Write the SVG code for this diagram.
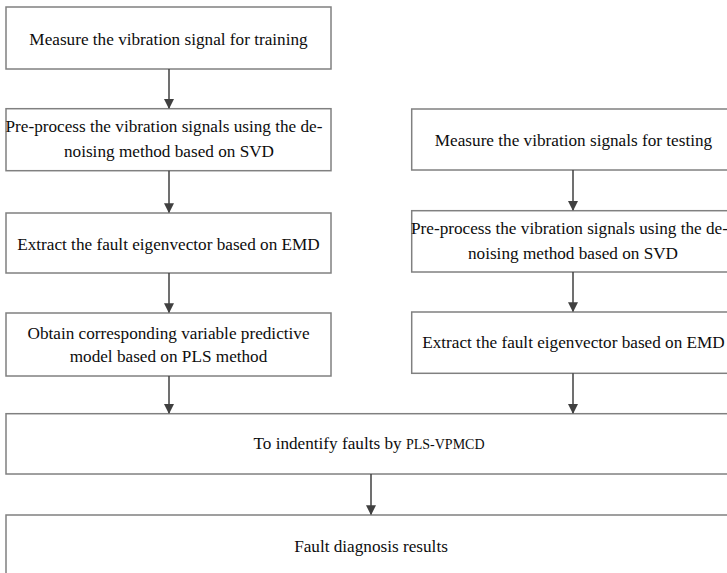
<svg xmlns="http://www.w3.org/2000/svg" width="727" height="573" viewBox="0 0 727 573">
<defs>
<style>
.box{fill:#ffffff;stroke:#808080;stroke-width:1.5}
.t{font-family:"Liberation Serif","Times New Roman",serif;font-size:17.2px;fill:#0d0d0d;text-anchor:middle}
.s{font-size:14px}
.c{stroke:#404040;stroke-width:1.5;fill:none}
</style>
<marker id="ah" markerUnits="userSpaceOnUse" markerWidth="10" markerHeight="12" refX="9" refY="5" orient="auto" viewBox="0 0 10 10">
<path d="M0,0 L10,5 L0,10 Z" fill="#404040"/>
</marker>
</defs>
<rect width="727" height="573" fill="#ffffff"/>
<g id="n1"><rect class="box" x="6" y="7" width="325" height="62"/><text class="t" x="168.5" y="45">Measure the vibration signal for training</text></g>
<g id="n2"><rect class="box" x="6" y="108.7" width="325" height="62"/><text class="t" x="164" y="132">Pre-process the vibration signals using the de-</text><text class="t" x="169" y="157">noising method based on SVD</text></g>
<g id="n3"><rect class="box" x="6" y="213" width="325" height="60"/><text class="t" x="168.5" y="249.5">Extract the fault eigenvector based on EMD</text></g>
<g id="n4"><rect class="box" x="6" y="313" width="325" height="63"/><text class="t" x="168.5" y="339">Obtain corresponding variable predictive</text><text class="t" x="168.5" y="362">model based on PLS method</text></g>
<g id="r1"><rect class="box" x="411.7" y="109" width="325" height="61"/><text class="t" x="573.5" y="145.5">Measure the vibration signals for testing</text></g>
<g id="r2"><rect class="box" x="411.7" y="210.7" width="325" height="61.3"/><text class="t" x="569.5" y="234">Pre-process the vibration signals using the de-</text><text class="t" x="573" y="259">noising method based on SVD</text></g>
<g id="r3"><rect class="box" x="411.7" y="312" width="325" height="61.3"/><text class="t" x="573.5" y="348">Extract the fault eigenvector based on EMD</text></g>
<g id="n5"><rect class="box" x="6" y="413.7" width="740" height="60.3"/><text class="t" x="369" y="449">To indentify faults by <tspan class="s">PLS-VPMCD</tspan></text></g>
<g id="n6"><rect class="box" x="6" y="515" width="740" height="80"/><text class="t" x="371" y="552">Fault diagnosis results</text></g>
<g id="connectors">
<line class="c" x1="169" y1="69" x2="169" y2="108" marker-end="url(#ah)"/>
<line class="c" x1="169" y1="170.7" x2="169" y2="212.3" marker-end="url(#ah)"/>
<line class="c" x1="169" y1="273" x2="169" y2="312.3" marker-end="url(#ah)"/>
<line class="c" x1="169" y1="376" x2="169" y2="413" marker-end="url(#ah)"/>
<line class="c" x1="573" y1="170" x2="573" y2="210" marker-end="url(#ah)"/>
<line class="c" x1="573" y1="272" x2="573" y2="311.3" marker-end="url(#ah)"/>
<line class="c" x1="573" y1="373.3" x2="573" y2="413" marker-end="url(#ah)"/>
<line class="c" x1="371" y1="474" x2="371" y2="514.3" marker-end="url(#ah)"/>
</g>
</svg>
